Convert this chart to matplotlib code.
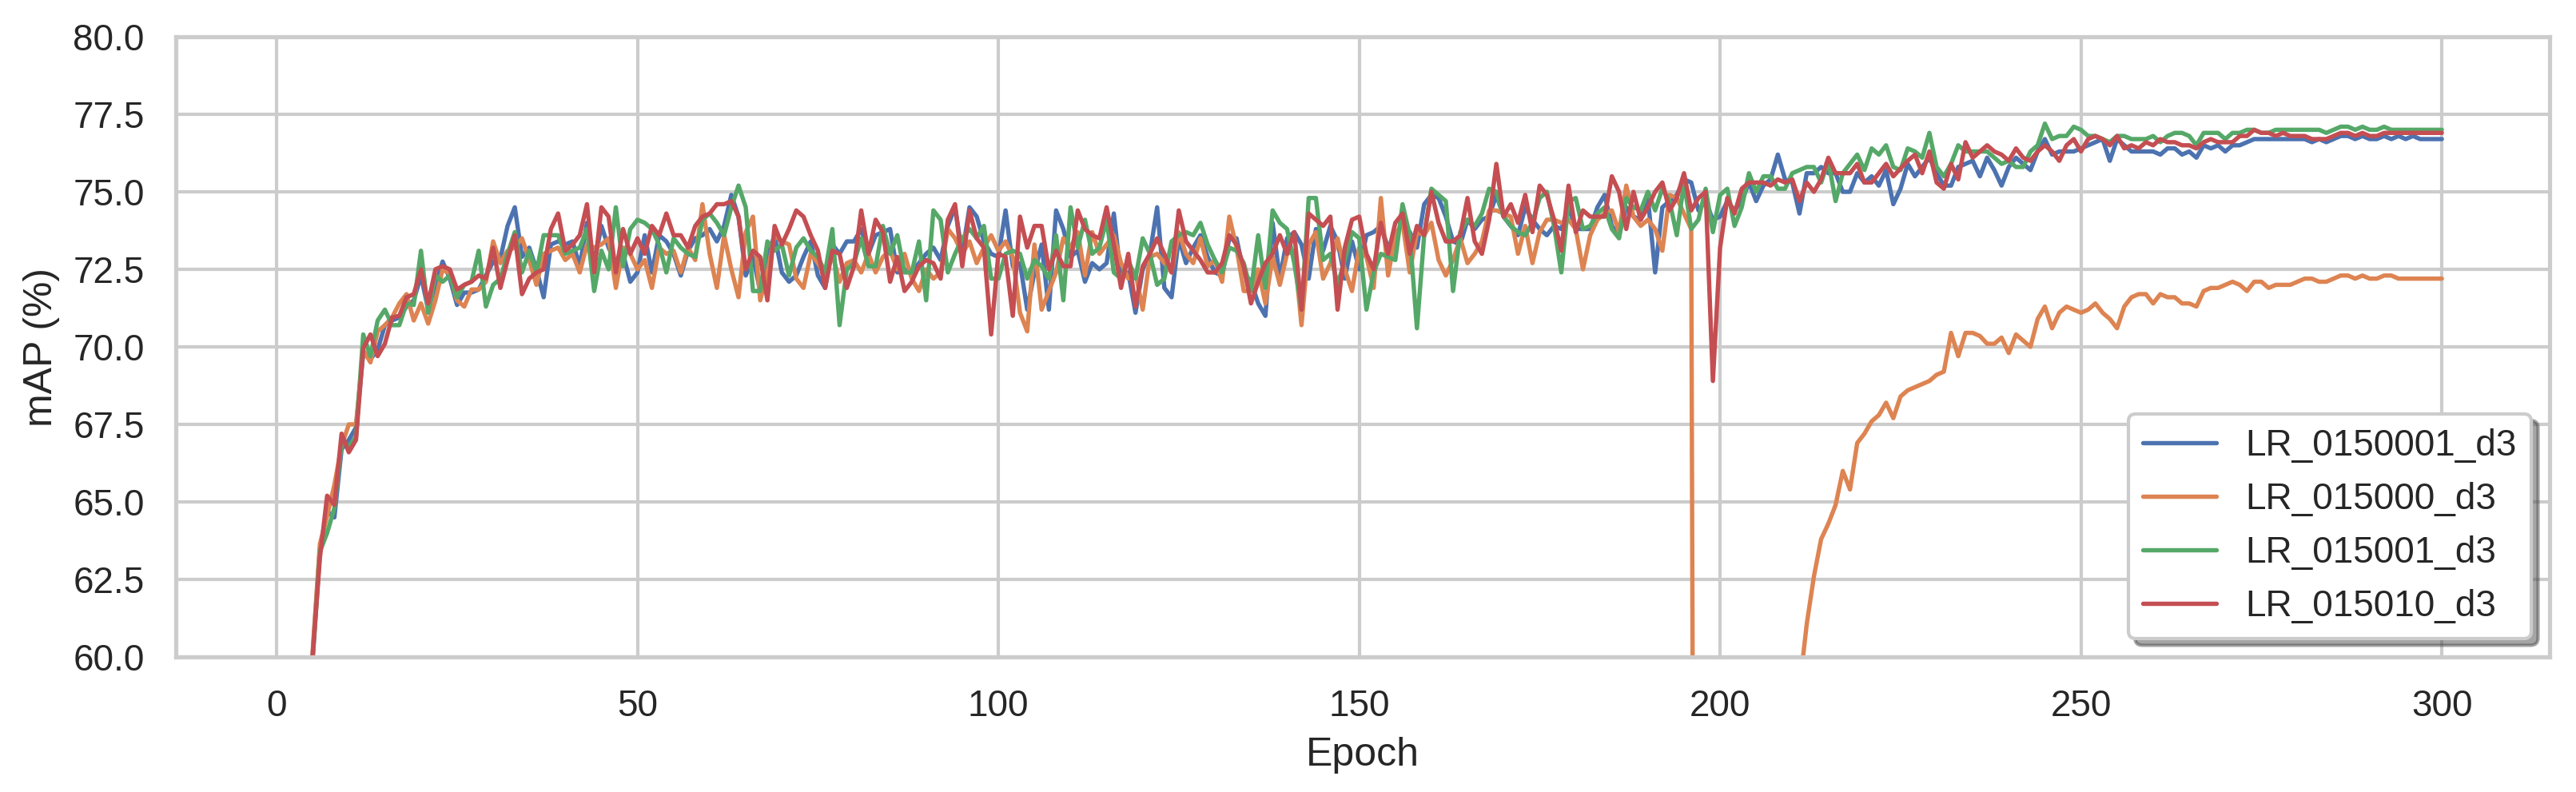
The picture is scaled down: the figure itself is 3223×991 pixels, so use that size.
import numpy as np
import matplotlib
matplotlib.use("Agg")
import matplotlib.pyplot as plt
import seaborn as sns

# mAP (%) per epoch, epochs 1..300
# (values below 60 are off the plotted range)

epochs = np.arange(1, 301)

lr_0150001 = [
    9.8, 24.6, 38.1, 51.7, 60.1, 63.5, 64.7, 64.5, 66.7, 67.0,
    67.4, 69.8, 69.6, 69.9, 70.7, 70.85, 70.95, 71.3, 71.5, 72.3,
    71.2, 72.0, 72.75, 72.2, 71.35, 71.75, 71.75, 71.85, 72.3, 72.75,
    72.85, 73.9, 74.5, 72.9, 73.2, 72.5, 71.6, 73.3, 73.4, 73.3,
    73.4, 72.6, 74.0, 72.7, 73.9, 73.2, 72.7, 73.0, 72.1, 72.4,
    73.6, 72.4, 73.6, 73.4, 73.0, 72.3, 73.1, 73.5, 73.6, 73.8,
    73.4, 73.9, 74.9, 74.2, 72.3, 72.9, 71.8, 72.9, 73.6, 72.4,
    72.1, 72.3, 72.9, 73.4, 72.3, 71.9, 73.3, 73.0, 73.4, 73.4,
    73.8, 73.0, 73.6, 73.7, 73.8, 72.4, 72.5, 72.4, 72.7, 73.0,
    73.2, 72.8, 73.9, 74.5, 73.0, 74.5, 74.2, 73.4, 73.0, 72.9,
    74.4, 72.6, 72.7, 71.2, 72.4, 73.3, 71.2, 74.4, 73.8, 72.9,
    73.1, 72.1, 72.7, 72.5, 72.7, 74.3, 72.2, 72.4, 71.1, 72.5,
    73.0, 74.5, 71.9, 71.6, 73.5, 72.7, 73.2, 73.6, 72.9, 72.4,
    72.3, 73.5, 73.5, 72.4, 72.1, 71.4, 71.0, 74.0, 72.2, 73.5,
    73.7, 73.3, 72.2, 73.8, 73.1, 73.9, 73.4, 72.2, 73.4, 72.5,
    73.6, 73.7, 73.9, 73.2, 73.6, 74.0, 73.7, 73.2, 74.6, 74.9,
    74.8, 74.2, 73.4, 73.3, 74.1, 73.8, 74.1, 74.2, 74.9, 74.2,
    73.9, 73.6, 74.5, 74.1, 73.8, 73.6, 73.9, 73.8, 74.5, 73.8,
    73.8, 73.8, 74.5, 74.9, 73.9, 73.6, 74.5, 74.2, 74.1, 74.8,
    72.4, 74.5, 74.7, 74.9, 75.4, 75.3, 74.4, 74.7, 74.1, 74.2,
    74.7, 74.4, 74.7, 75.3, 74.7, 75.2, 75.4, 76.2, 75.4, 75.3,
    74.3, 75.6, 75.6, 75.8, 75.6, 75.6, 75.0, 75.0, 75.6, 75.3,
    75.5, 75.2, 75.7, 74.6, 75.1, 75.9, 75.5, 75.8, 76.1, 75.6,
    75.2, 75.2, 75.8, 75.9, 76.0, 75.5, 76.1, 75.7, 75.2, 75.8,
    76.1, 75.9, 75.7, 76.3, 76.7, 76.2, 76.3, 76.3, 76.3, 76.4,
    76.5, 76.6, 76.7, 76.0, 76.7, 76.5, 76.3, 76.3, 76.3, 76.3,
    76.2, 76.4, 76.4, 76.2, 76.3, 76.1, 76.5, 76.4, 76.5, 76.3,
    76.5, 76.5, 76.6, 76.7, 76.7, 76.7, 76.7, 76.7, 76.7, 76.7,
    76.7, 76.6, 76.7, 76.6, 76.7, 76.8, 76.8, 76.7, 76.8, 76.7,
    76.7, 76.8, 76.7, 76.8, 76.7, 76.8, 76.7, 76.7, 76.7, 76.7,
]

lr_015000 = [
    11.2, 26.3, 40.4, 53.0, 60.2, 63.65, 64.55, 65.55, 66.8, 67.5,
    67.5, 69.9, 69.5, 70.5, 70.7, 70.95, 71.4, 71.7, 70.85, 71.4,
    70.75, 71.5, 72.5, 72.35, 71.5, 71.3, 71.85, 71.85, 72.1, 73.4,
    72.7, 73.1, 73.2, 73.5, 72.8, 72.0, 73.0, 73.1, 73.2, 72.8,
    73.0, 72.4, 73.3, 73.2, 73.3, 73.5, 71.9, 73.2, 73.0, 72.5,
    72.8, 71.9, 73.2, 73.0, 73.1, 72.4, 73.2, 72.8, 74.6, 73.0,
    71.9, 73.6, 72.5, 71.6, 73.7, 74.2, 71.5, 72.4, 73.6, 73.4,
    73.3, 72.2, 71.9, 73.0, 72.7, 72.3, 73.0, 72.1, 72.7, 72.8,
    72.4, 73.0, 72.4, 72.9, 73.1, 72.5, 73.0, 72.2, 71.8, 72.5,
    72.2, 72.4, 73.8, 73.5, 73.0, 73.4, 72.7, 73.2, 73.6, 73.1,
    73.4, 72.9, 71.1, 70.5, 73.3, 71.2, 71.8, 72.4, 73.5, 73.2,
    73.7, 72.3, 73.7, 73.0, 73.3, 73.6, 72.7, 72.2, 72.4, 71.2,
    72.9, 73.0, 72.7, 72.4, 73.7, 73.0, 72.7, 73.5, 72.6, 72.8,
    72.1, 74.2, 73.2, 71.8, 71.8, 72.5, 71.4, 72.9, 72.0, 73.0,
    73.1, 70.7, 73.3, 73.7, 72.2, 72.7, 73.5, 72.5, 71.8, 73.2,
    72.9, 71.9, 74.8, 72.3, 73.6, 74.0, 72.4, 73.7, 73.6, 74.0,
    72.8, 72.3, 72.8, 73.5, 72.7, 73.0, 73.4, 74.4, 74.4, 74.3,
    74.2, 73.0, 73.9, 72.7, 73.7, 74.1, 74.1, 74.0, 74.1, 73.8,
    72.5, 73.6, 74.1, 74.3, 74.4, 73.7, 75.2, 74.2, 73.9, 74.1,
    73.8, 73.1, 74.9, 74.8, 74.3, 73.8, 0.9, 3.6, 11.8, 9.4,
    20.7, 27.5, 25.1, 33.9, 38.2, 36.4, 44.7, 49.3, 47.8, 55.2,
    59.0, 61.05, 62.6, 63.8, 64.3, 64.9, 66.0, 65.4, 66.9, 67.2,
    67.6, 67.8, 68.2, 67.7, 68.4, 68.6, 68.7, 68.8, 68.9, 69.1,
    69.2, 70.45, 69.7, 70.45, 70.45, 70.35, 70.1, 70.1, 70.3, 69.8,
    70.4, 70.2, 70.0, 70.9, 71.3, 70.6, 71.1, 71.3, 71.2, 71.1,
    71.2, 71.4, 71.1, 70.9, 70.6, 71.3, 71.6, 71.7, 71.7, 71.4,
    71.7, 71.6, 71.6, 71.4, 71.4, 71.3, 71.8, 71.9, 71.9, 72.0,
    72.1, 72.0, 71.8, 72.1, 72.1, 71.9, 72.0, 72.0, 72.0, 72.1,
    72.2, 72.2, 72.1, 72.1, 72.2, 72.3, 72.3, 72.2, 72.3, 72.2,
    72.2, 72.3, 72.3, 72.2, 72.2, 72.2, 72.2, 72.2, 72.2, 72.2,
]

lr_015001 = [
    10.5, 25.9, 39.2, 52.4, 59.9, 63.4, 64.0, 64.8, 66.9, 66.8,
    67.1, 70.4, 69.7, 70.85, 71.2, 70.7, 70.7, 71.4, 71.35, 73.1,
    71.1, 72.3, 72.1, 72.3, 71.6, 72.0, 72.1, 73.1, 71.3, 72.0,
    72.2, 73.0, 73.7, 72.4, 73.1, 72.4, 73.6, 73.6, 73.6, 73.0,
    73.1, 73.2, 73.8, 71.8, 73.1, 72.5, 74.5, 72.6, 73.8, 74.1,
    74.0, 73.8, 73.3, 72.4, 73.5, 73.2, 73.0, 72.9, 74.1, 74.3,
    74.0, 73.6, 74.5, 75.2, 74.5, 71.8, 71.8, 73.4, 73.1, 73.3,
    72.3, 73.2, 73.5, 73.1, 72.9, 72.4, 73.8, 70.7, 72.5, 72.7,
    73.5, 72.6, 72.6, 73.9, 73.0, 73.6, 72.4, 72.4, 73.4, 71.5,
    74.4, 74.1, 72.4, 73.0, 73.5, 73.8, 73.5, 73.9, 72.2, 72.2,
    73.0, 73.1, 73.0, 72.2, 72.8, 72.6, 72.2, 73.6, 71.5, 74.5,
    73.2, 74.1, 73.0, 73.2, 74.1, 72.4, 72.2, 72.8, 72.2, 73.5,
    73.0, 72.0, 72.2, 73.4, 73.6, 73.7, 73.6, 74.0, 73.3, 72.8,
    72.4, 73.2, 73.1, 72.7, 71.8, 73.6, 71.9, 74.4, 74.0, 73.8,
    72.7, 71.2, 74.8, 74.8, 72.8, 73.0, 72.0, 72.8, 73.7, 73.5,
    71.2, 72.4, 73.0, 72.9, 72.8, 74.6, 73.6, 70.6, 73.6, 75.1,
    74.9, 74.7, 71.8, 73.7, 74.1, 73.9, 74.3, 75.1, 75.0, 74.2,
    73.9, 73.7, 73.6, 74.0, 74.8, 75.0, 73.9, 72.4, 74.7, 74.8,
    73.8, 73.9, 74.3, 74.5, 73.8, 73.5, 74.8, 74.5, 74.4, 75.0,
    74.4, 75.1, 74.7, 73.6, 75.3, 73.8, 74.1, 75.1, 73.7, 74.9,
    75.1, 73.9, 74.5, 75.6, 75.0, 75.5, 75.5, 75.1, 75.1, 75.6,
    75.7, 75.8, 75.8, 75.3, 76.0, 74.7, 75.6, 75.9, 76.2, 75.7,
    76.4, 76.2, 76.5, 75.8, 75.7, 76.4, 76.3, 76.1, 76.9, 75.8,
    75.5, 75.9, 76.5, 76.3, 76.3, 76.3, 76.3, 76.1, 75.9, 76.0,
    75.8, 75.8, 76.3, 76.5, 77.2, 76.7, 76.8, 76.8, 77.1, 77.0,
    76.8, 76.8, 76.7, 76.6, 76.8, 76.8, 76.7, 76.7, 76.7, 76.8,
    76.6, 76.8, 76.9, 76.9, 76.8, 76.5, 76.9, 76.9, 76.9, 76.7,
    76.9, 76.9, 77.0, 77.0, 76.9, 76.9, 77.0, 77.0, 77.0, 77.0,
    77.0, 77.0, 77.0, 76.9, 77.0, 77.1, 77.1, 77.0, 77.1, 77.0,
    77.0, 77.1, 77.0, 77.0, 77.0, 77.0, 77.0, 77.0, 77.0, 77.0,
]

lr_015010 = [
    12.4, 27.1, 41.5, 53.6, 60.05, 63.2, 65.2, 64.9, 67.2, 66.6,
    67.0, 69.95, 70.4, 69.7, 70.1, 70.95, 71.0, 71.6, 71.7, 72.5,
    71.4, 72.5, 72.6, 72.5, 71.85, 72.0, 72.1, 72.3, 72.2, 73.2,
    71.9, 72.8, 73.6, 71.7, 72.2, 72.4, 72.5, 73.8, 74.3, 73.1,
    73.3, 73.6, 74.6, 72.4, 74.5, 74.2, 72.4, 73.8, 73.0, 73.5,
    73.0, 73.9, 73.6, 74.3, 73.6, 73.6, 73.2, 73.9, 74.2, 74.3,
    74.6, 74.6, 74.7, 74.2, 72.5, 73.1, 72.9, 71.5, 73.9, 73.3,
    73.8, 74.4, 74.2, 73.6, 73.1, 71.9, 73.1, 73.0, 71.9, 72.6,
    74.4, 73.0, 74.1, 73.7, 72.1, 72.9, 71.8, 72.1, 72.6, 72.8,
    72.7, 72.2, 74.1, 74.6, 72.6, 74.4, 73.5, 73.2, 70.4, 73.0,
    72.9, 71.0, 74.2, 73.2, 73.9, 73.9, 72.5, 73.1, 72.6, 72.6,
    74.4, 73.8, 73.6, 73.5, 74.5, 73.3, 71.9, 73.0, 71.3, 72.6,
    73.0, 73.5, 73.0, 72.4, 74.4, 73.4, 73.1, 72.8, 72.4, 72.4,
    72.7, 73.6, 73.3, 72.6, 71.4, 72.1, 72.7, 73.0, 73.6, 73.0,
    73.7, 71.2, 74.3, 74.1, 73.9, 74.2, 71.2, 73.2, 74.1, 74.2,
    73.0, 72.5, 74.0, 73.0, 74.0, 74.3, 73.0, 73.9, 73.6, 75.0,
    74.0, 73.4, 73.4, 73.6, 74.8, 73.4, 73.0, 74.1, 75.9, 74.2,
    74.6, 74.0, 74.9, 73.7, 75.2, 74.9, 74.1, 73.1, 75.2, 73.7,
    74.4, 74.2, 74.2, 74.2, 75.5, 75.0, 73.8, 75.0, 74.1, 74.5,
    75.0, 75.3, 74.4, 74.8, 75.6, 74.4, 74.8, 75.0, 68.9, 73.2,
    74.8, 74.3, 75.1, 75.3, 75.3, 75.3, 75.2, 75.4, 75.3, 75.4,
    74.7, 75.3, 75.0, 75.4, 76.1, 75.6, 75.6, 75.6, 75.9, 75.3,
    75.3, 75.6, 75.9, 75.5, 75.75, 76.0, 76.2, 75.6, 76.3, 75.3,
    75.1, 75.9, 75.4, 76.6, 76.1, 76.3, 76.5, 76.3, 76.2, 76.0,
    76.4, 76.1, 76.0, 76.3, 76.5, 76.3, 76.0, 76.5, 76.7, 76.3,
    76.7, 76.8, 76.7, 76.5, 76.8, 76.4, 76.5, 76.4, 76.6, 76.5,
    76.7, 76.6, 76.6, 76.5, 76.5, 76.4, 76.6, 76.7, 76.6, 76.6,
    76.6, 76.8, 76.8, 77.0, 76.9, 76.9, 76.8, 76.9, 76.8, 76.8,
    76.8, 76.7, 76.7, 76.7, 76.8, 76.9, 76.9, 76.8, 76.9, 76.8,
    76.8, 76.9, 76.9, 76.9, 76.9, 76.9, 76.9, 76.9, 76.9, 76.9,
]

series = [
    ("LR_0150001_d3", lr_0150001),
    ("LR_015000_d3", lr_015000),
    ("LR_015001_d3", lr_015001),
    ("LR_015010_d3", lr_015010),
]

y_ticks = [60.0, 62.5, 65.0, 67.5, 70.0, 72.5, 75.0, 77.5, 80.0]
x_ticks = [0, 50, 100, 150, 200, 250, 300]

sns.set_theme(style="whitegrid")
plt.rcParams["font.family"] = ["Liberation Sans", "DejaVu Sans"]

fig, ax = plt.subplots(figsize=(3223 / 300, 991 / 300), dpi=300)
fig.subplots_adjust(left=0.0683, right=0.9898, top=0.9536, bottom=0.1705)

for name, values in series:
    ax.plot(epochs, values, label=name, linewidth=1.3)

ax.set_ylim(60, 80)
ax.set_yticks(y_ticks)
ax.set_xticks(x_ticks)
ax.set_xlabel("Epoch")
ax.set_ylabel("mAP (%)")
ax.legend(loc="lower right", shadow=True, fancybox=True)

fig.savefig("out.png", dpi=300)
